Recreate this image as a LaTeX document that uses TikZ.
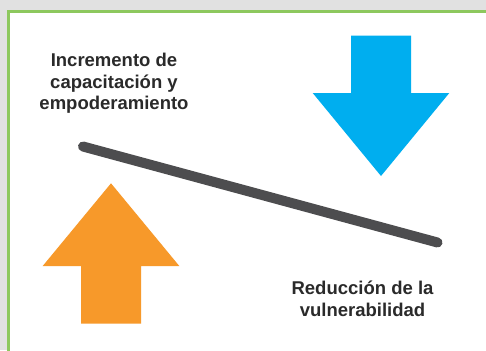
\documentclass[tikz,border=0pt]{standalone}
\usepackage{fontspec}
\setmainfont{Liberation Sans}
\definecolor{bggray}{HTML}{E1E1E1}
\definecolor{framegreen}{HTML}{8DC85E}
\definecolor{arrowblue}{HTML}{00AEEF}
\definecolor{arroworange}{HTML}{F7992A}
\definecolor{bargray}{HTML}{4D4D4F}
\definecolor{textdark}{HTML}{2A2A2A}
\begin{document}
\begin{tikzpicture}[x=1pt,y=-1pt,
  label text/.style={align=center,font=\bfseries\fontsize{18.5}{21.5}\selectfont,text=textdark,inner sep=0pt},
  bar/.style={line width=10pt,line cap=round,draw=bargray}]
\useasboundingbox (0,0) rectangle (486,350);
\fill[bggray] (0,0) rectangle (486,350);
\filldraw[fill=white,draw=framegreen,line width=3pt] (8.5,11.4) rectangle (495,360);
% blue down arrow
\fill[arrowblue] (351,35.7) -- (411,35.7) -- (411,93) -- (449.3,93) -- (381,176) -- (312.7,93) -- (351,93) -- cycle;
% orange up arrow
\fill[arroworange] (81,323.7) -- (141,323.7) -- (141,266) -- (179.3,266) -- (111,183.3) -- (42.7,266) -- (81,266) -- cycle;
% seesaw bar
\coordinate (barL) at (83,146.5);
\coordinate (barR) at (437.5,242.5);
\draw[bar] (barL) -- (barR);
% labels
\node[label text] (inc) at (114,83.5) {Incremento de\\capacitación y\\empoderamiento};
\node[label text] (red) at (362.5,299) {Reducción de la\\vulnerabilidad};
\end{tikzpicture}
\end{document}
